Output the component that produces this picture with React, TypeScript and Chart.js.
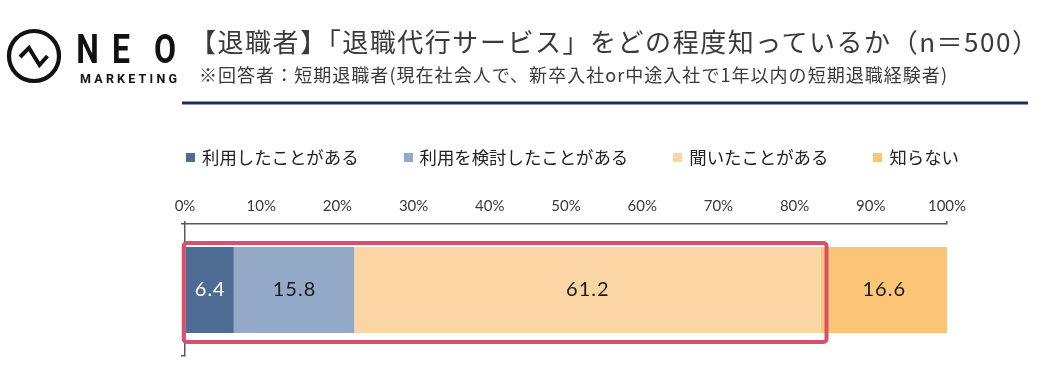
import React, { useEffect, useRef } from "react";
import { Chart, registerables } from "chart.js";

Chart.register(...registerables);

// ---- data ----
const categories = ["退職代行サービス"];
const seriesNames = ["利用したことがある", "利用を検討したことがある", "聞いたことがある", "知らない"];
const usedValues = [6.4];
const consideredValues = [15.8];
const heardValues = [61.2];
const unknownValues = [16.6];
const seriesColors = ["#4E6B94", "#94A9C8", "#FBD6A5", "#FBC577"];
const valueLabelColors = ["#FFFFFF", "#1A1A1A", "#1A1A1A", "#1A1A1A"];
const tickMin = 0;
const tickMax = 100;
const tickStep = 10;
const titleText = "【退職者】「退職代行サービス」をどの程度知っているか（n＝500）";
const subtitleText = "※回答者：短期退職者(現在社会人で、新卒入社or中途入社で1年以内の短期退職経験者)";
const logoMain = ["N", "E", "O"];
const logoSub = "MARKETING";

const AXIS_COLOR = "#595959";
const HIGHLIGHT_COLOR = "#D7516D";

const valueLabelsPlugin = {
  id: "valueLabels",
  afterDatasetsDraw(chart: any) {
    const ctx = chart.ctx;
    chart.data.datasets.forEach((ds: any, i: number) => {
      const meta = chart.getDatasetMeta(i);
      meta.data.forEach((bar: any, j: number) => {
        const p = bar.getProps(["x", "y", "base"], true);
        ctx.save();
        ctx.font = "20px Lato";
        try {
          (ctx as any).letterSpacing = "1px";
        } catch (e) {}
        ctx.fillStyle = valueLabelColors[i];
        ctx.textAlign = "center";
        ctx.textBaseline = "middle";
        ctx.fillText(Number(ds.data[j]).toFixed(1), (p.x + p.base) / 2 + 0.5, p.y);
        ctx.restore();
      });
    });
  },
};

const highlightPlugin = {
  id: "highlightBox",
  afterDraw(chart: any) {
    const first = chart.getDatasetMeta(0).data[0];
    const third = chart.getDatasetMeta(2).data[0];
    if (!first || !third) return;
    const a = first.getProps(["base", "y", "height"], true);
    const b = third.getProps(["x"], true);
    const ctx = chart.ctx;
    const left = a.base - 2;
    const right = b.x + 6;
    const top = a.y - a.height / 2 - 4;
    const bottom = a.y + a.height / 2 + 9;
    ctx.save();
    ctx.strokeStyle = HIGHLIGHT_COLOR;
    ctx.lineWidth = 4;
    ctx.beginPath();
    (ctx as any).roundRect(left, top, right - left, bottom - top, 3);
    ctx.stroke();
    ctx.restore();
  },
};

function ChartCanvas() {
  const ref = useRef<HTMLCanvasElement | null>(null);
  useEffect(() => {
    if (!ref.current) return;
    const values = [usedValues, consideredValues, heardValues, unknownValues];
    const chart = new Chart(ref.current, {
      type: "bar",
      data: {
        labels: categories,
        datasets: seriesNames.map((name, i) => ({
          label: name,
          data: values[i],
          backgroundColor: seriesColors[i],
          borderWidth: 0,
          barPercentage: 0.65,
          categoryPercentage: 1,
        })),
      },
      options: {
        indexAxis: "y",
        responsive: false,
        animation: false,
        devicePixelRatio: 1,
        layout: { padding: { left: 181, right: 111, top: 191, bottom: 24 } },
        plugins: {
          legend: { display: false },
          tooltip: { enabled: false },
          title: { display: false },
        },
        scales: {
          x: {
            type: "linear",
            position: "top",
            stacked: true,
            min: tickMin,
            max: tickMax,
            ticks: {
              stepSize: tickStep,
              callback: (v: any) => v + "%",
              font: { family: "Lato", size: 15 },
              color: "#3A3A3A",
              padding: 6,
            },
            grid: {
              drawOnChartArea: false,
              tickLength: 3,
              lineWidth: 1.5,
              color: (c: any) =>
                c.tick && (c.tick.value === tickMin || c.tick.value === tickMax)
                  ? AXIS_COLOR
                  : "rgba(0,0,0,0)",
            },
            border: { display: true, color: AXIS_COLOR, width: 1.5 },
          },
          y: {
            stacked: true,
            ticks: { display: false },
            grid: {
              drawOnChartArea: false,
              tickLength: 4,
              lineWidth: 1.5,
              color: AXIS_COLOR,
            },
            border: { display: true, color: AXIS_COLOR, width: 1.5 },
          },
        },
      } as any,
      plugins: [valueLabelsPlugin, highlightPlugin],
    });
    return () => chart.destroy();
  }, []);
  return (
    <canvas
      ref={ref}
      width={1058}
      height={380}
      style={{ position: "absolute", left: 0, top: 0, width: 1058, height: 380 }}
    />
  );
}

function Header() {
  const logoCenters = [87.5, 121, 165];
  return (
    <svg
      width={1058}
      height={112}
      style={{ position: "absolute", left: 0, top: 0 }}
      xmlns="http://www.w3.org/2000/svg"
    >
      <circle cx={34} cy={56} r={25} fill="none" stroke="#111" strokeWidth={4.2} />
      <polyline
        points="20,57 29,48 39.5,65 47.5,56"
        fill="none"
        stroke="#111"
        strokeWidth={4}
        strokeLinejoin="miter"
      />
      {logoMain.map((ch, i) => (
        <text
          key={ch}
          transform={`translate(${logoCenters[i]},63) scale(0.78,1)`}
          x={0}
          y={0}
          textAnchor="middle"
          fontFamily="Roboto, 'DejaVu Sans', sans-serif"
          fontWeight={700}
          fontSize={41}
          fill="#111"
        >
          {ch}
        </text>
      ))}
      <text
        x={80}
        y={83}
        textLength={97}
        lengthAdjust="spacing"
        fontFamily="Roboto, 'DejaVu Sans', sans-serif"
        fontWeight={700}
        fontSize={12.5}
        fill="#111"
      >
        {logoSub}
      </text>
      <text
        x={190}
        y={40}
        dominantBaseline="central"
        textLength={848}
        lengthAdjust="spacing"
        fontFamily="'Noto Sans CJK JP', sans-serif"
        fontSize={26}
        fill="#3A3A3A"
      >
        {titleText}
      </text>
      <text
        x={199}
        y={74}
        dominantBaseline="central"
        textLength={748}
        lengthAdjust="spacing"
        fontFamily="'Noto Sans CJK JP', sans-serif"
        fontSize={18}
        fill="#3A3A3A"
      >
        {subtitleText}
      </text>
      <rect x={182} y={101.5} width={846} height={3} fill="#1F2A6B" />
    </svg>
  );
}

function Legend() {
  return (
    <div
      style={{
        position: "absolute",
        left: 186,
        top: 147,
        height: 20,
        display: "flex",
        alignItems: "center",
        gap: 45,
        fontFamily: "'Noto Sans CJK JP', sans-serif",
        fontSize: 17.4,
        color: "#222",
        whiteSpace: "nowrap",
      }}
    >
      {seriesNames.map((name, i) => (
        <div key={name} style={{ display: "flex", alignItems: "center" }}>
          <span
            style={{
              display: "inline-block",
              width: 9,
              height: 9,
              background: seriesColors[i],
              marginRight: 7,
            }}
          />
          <span style={{ lineHeight: "20px" }}>{name}</span>
        </div>
      ))}
    </div>
  );
}

export default function App() {
  return (
    <div
      style={{
        position: "fixed",
        left: 0,
        top: 0,
        width: 1058,
        height: 380,
        background: "#fff",
        overflow: "hidden",
      }}
    >
      <ChartCanvas />
      <Header />
      <Legend />
    </div>
  );
}
